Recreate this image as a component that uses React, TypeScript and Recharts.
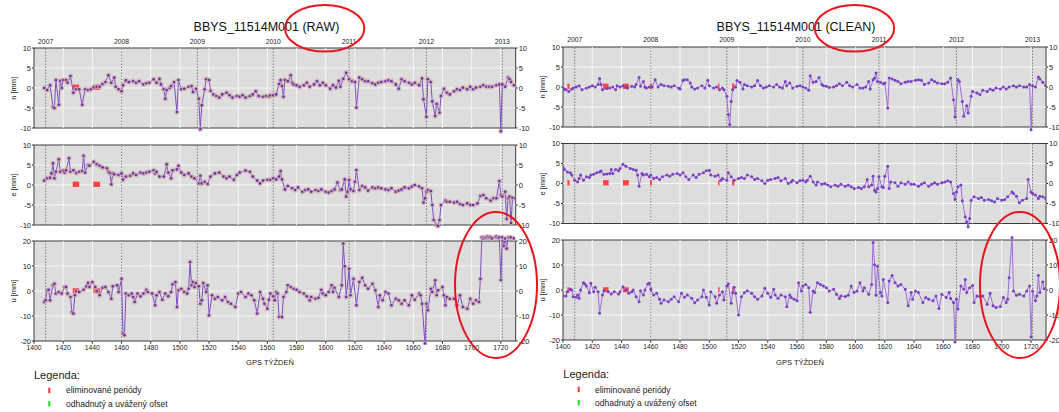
import React from 'react';
import { LineChart, Line, XAxis, YAxis, ReferenceArea, ReferenceLine } from 'recharts';

type Pt = [number, number];

// ---------- RAW series (GPS week, mm) ----------
const rawN: Pt[] = [[1407,0],[1409,-0.5],[1411,0.7],[1413,-4.7],[1414,-5],[1415,2],[1417,-4.2],[1418,1.8],[1419,0],[1420,2],[1422,2],[1423,1.3],[1425,3],[1427,-1.2],[1429,-0.3],[1431,-0.3],[1433,-4.2],[1435,-0.3],[1437,-0.5],[1439,-0.3],[1441,0.2],[1443,0.3],[1445,0.3],[1447,1],[1449,1.5],[1451,3.2],[1453,1.3],[1455,2.6],[1456,0.3],[1458,-0.3],[1460,-0.8],[1461,0.7],[1463,1.9],[1465,1.5],[1468,1.7],[1470,1.3],[1472,1.7],[1475,0.9],[1477,1.2],[1479,1.3],[1482,2.2],[1484,1.3],[1486,2.3],[1487,0.9],[1489,-0.3],[1490,-2.7],[1491,-0.5],[1493,0],[1494,0.5],[1496,1.5],[1498,-6],[1499,2],[1501,-0.3],[1503,-0.2],[1506,0.3],[1508,0.5],[1509,-1],[1511,-0.2],[1513,-2.7],[1514,-10.3],[1515,-4.3],[1517,-0.3],[1518,2.2],[1520,2],[1521,-0.7],[1523,-1.6],[1525,-2],[1527,-2.4],[1529,-1.6],[1532,-1.2],[1534,-1.8],[1536,-2.4],[1539,-2],[1541,-2.2],[1543,-1.8],[1545,-2.4],[1548,-2],[1550,-1.6],[1552,-0.8],[1554,-2],[1557,-2.2],[1559,-2],[1561,-2.1],[1562,-1.8],[1564,-1.8],[1566,-1.6],[1568,1],[1569,2],[1570,0.5],[1571,-2.2],[1572,2],[1574,1.7],[1576,3.2],[1577,1.3],[1578,0.9],[1580,0.7],[1582,0.3],[1585,0.7],[1587,1.3],[1589,0.3],[1592,0.9],[1594,1.7],[1596,0.7],[1598,1.3],[1600,0.7],[1603,-0.2],[1605,0.7],[1607,0.1],[1609,1.8],[1610,0.3],[1612,2.3],[1614,3.8],[1616,2.2],[1618,1.7],[1620,1.5],[1621,-4.9],[1623,2.6],[1625,2.2],[1627,1.7],[1629,1.7],[1632,1.2],[1634,0.9],[1636,1.3],[1638,1.5],[1641,1.7],[1643,1.9],[1645,1.7],[1648,0.9],[1650,-0.2],[1652,2.2],[1654,1.7],[1657,1.3],[1659,0.9],[1661,1.3],[1664,0.7],[1666,2.4],[1667,-2.8],[1669,-7.2],[1670,2.2],[1672,1.5],[1673,-3.3],[1675,-7],[1676,-4],[1678,-6.2],[1679,-2],[1681,-0.2],[1683,-1.2],[1685,-1.6],[1688,-0.8],[1690,-0.3],[1692,-0.5],[1694,0.1],[1697,-0.3],[1699,0.3],[1701,-0.3],[1703,0.1],[1706,0.3],[1708,0.7],[1710,0.3],[1712,0.3],[1714,0.3],[1717,0.7],[1719,0.9],[1720,-10.8],[1721,0.9],[1723,0.3],[1725,2.6],[1726,2.2],[1727,1.5],[1729,0.7]];

const rawE: Pt[] = [[1407,1.1],[1409,1.7],[1411,1.8],[1412,2.9],[1413,5.4],[1414,1.7],[1415,3.3],[1417,6.4],[1418,3.3],[1420,3.6],[1421,3.1],[1422,3.7],[1424,6.7],[1425,3.3],[1427,3.7],[1429,3],[1431,3.3],[1433,3.5],[1434,7.3],[1435,3.1],[1437,5],[1438,4.8],[1441,5.8],[1443,5.2],[1445,4.8],[1447,4.4],[1450,4.2],[1451,3.3],[1452,3],[1453,0.2],[1454,2.9],[1455,2.7],[1458,2.5],[1460,2.9],[1461,1.3],[1463,2.1],[1466,2.3],[1468,2.9],[1470,2.5],[1473,3.1],[1475,2.9],[1477,3.1],[1479,3.3],[1482,3.7],[1483,2.9],[1484,3.3],[1486,2.1],[1489,2.1],[1491,5.2],[1492,3.1],[1494,1.7],[1495,3.7],[1498,3.9],[1499,4.8],[1501,3.1],[1503,2.5],[1506,2.9],[1508,2.1],[1510,1.7],[1513,0.4],[1514,2.3],[1515,0.4],[1517,0.8],[1519,0.25],[1521,2.1],[1524,2.9],[1527,3.1],[1530,2.1],[1532,1.7],[1534,2.1],[1537,1.3],[1539,2.5],[1541,3.1],[1545,3.6],[1548,3.3],[1550,2.1],[1553,1.1],[1555,0.4],[1557,1.1],[1560,1.3],[1562,1.3],[1564,1.7],[1566,1.4],[1568,2.1],[1569,3.5],[1570,1.4],[1572,-1.1],[1574,-0.25],[1577,-0.8],[1579,-1.25],[1581,-0.6],[1584,-1.7],[1586,-1.25],[1588,-1.1],[1590,-1.7],[1593,-1.25],[1595,-1.5],[1597,-1.1],[1600,-1.7],[1602,-1.9],[1604,-1.5],[1606,-1.1],[1608,0.6],[1610,-1.25],[1611,-1.1],[1613,1.4],[1614,-2.9],[1615,-1.7],[1616,1.25],[1617,-1.1],[1619,-1.5],[1620,0.8],[1621,3.75],[1623,-1.25],[1625,-0.25],[1627,-0.6],[1629,-1.4],[1632,-0.6],[1634,-0.8],[1636,-0.6],[1638,-0.8],[1641,-1.1],[1643,-1.25],[1645,-0.8],[1648,-1.7],[1650,-1.4],[1652,-1.1],[1654,-0.6],[1657,-0.8],[1659,-0.4],[1661,0],[1664,-0.4],[1666,-0.8],[1667,-4.4],[1668,-3.3],[1669,-1.7],[1670,-1.25],[1672,-1.5],[1673,-5],[1674,-8.75],[1676,-10],[1677,-10.25],[1678,-8.75],[1679,-5],[1682,-3.9],[1683,-4.2],[1685,-4.2],[1688,-4.4],[1690,-4.2],[1692,-4.75],[1694,-5],[1697,-4.6],[1699,-5],[1701,-5],[1704,-4.6],[1706,-2.75],[1708,-2.5],[1710,-3.3],[1713,-3.9],[1715,-3.3],[1717,-3.3],[1719,1],[1720,-2.5],[1721,-2.9],[1723,-1.7],[1724,-8.5],[1725,-3.3],[1726,-2.9],[1727,-9.5],[1728,-3.2],[1730,-3.3]];

const rawU: Pt[] = [[1407,-4.4],[1408,-3.7],[1409,0.3],[1410,0.5],[1411,-3.7],[1413,2.3],[1414,2.9],[1415,-1],[1417,-0.4],[1419,-1],[1421,1.6],[1422,1.6],[1423,-1],[1425,-2.4],[1426,-8.4],[1427,-9],[1428,-1.7],[1429,0],[1431,-0.4],[1434,0.5],[1436,1.9],[1437,3.2],[1438,1.6],[1440,3.6],[1442,1.6],[1443,0],[1445,-1.7],[1447,1.3],[1449,1.6],[1451,-0.4],[1453,-3.1],[1454,1.9],[1457,2.3],[1458,-0.4],[1460,4.9],[1461,-17],[1462,-17.7],[1463,-1],[1465,-1.7],[1467,-1],[1468,-2.4],[1469,-4.4],[1471,-1],[1473,-2.1],[1475,-1],[1477,0.5],[1478,-0.4],[1481,-1],[1483,-5.7],[1484,-1.7],[1486,-0.4],[1488,-3.5],[1490,-1],[1492,-2.1],[1494,-0.4],[1495,2.7],[1497,3.6],[1498,-6.4],[1499,0.3],[1501,0.9],[1503,-0.4],[1505,-1],[1506,0.9],[1507,11.6],[1508,2.3],[1509,3.6],[1510,1.6],[1511,3.2],[1513,1.9],[1514,-5.1],[1515,-3.7],[1516,3.2],[1518,-0.4],[1519,2.3],[1520,-9.7],[1522,-1.7],[1524,-3.1],[1526,-2.4],[1529,-3.7],[1531,-2.4],[1533,-4.4],[1535,-5.1],[1538,-6.4],[1540,-1],[1542,-0.4],[1545,-2.4],[1547,-1],[1549,-1.7],[1551,-3.7],[1553,-9],[1555,-0.4],[1557,-3.1],[1558,-5.1],[1560,-7.1],[1561,-3.5],[1562,-1],[1564,-2.1],[1565,-3.7],[1566,-0.4],[1567,-1],[1568,-10.4],[1570,-10.4],[1571,-2.4],[1573,-0.4],[1574,2.3],[1576,1.6],[1578,0.9],[1580,0.5],[1582,-0.4],[1585,-1],[1587,-2.1],[1589,-3.7],[1590,-2.4],[1593,-3.1],[1595,-2.7],[1597,0.5],[1598,-1],[1600,-1.7],[1602,-0.4],[1604,2.3],[1605,-0.4],[1606,1.3],[1609,-2.4],[1611,2.3],[1612,19],[1613,9.9],[1614,-2.4],[1616,8.9],[1617,-1.7],[1619,4.9],[1621,-5.7],[1623,3.6],[1625,5.3],[1627,2.3],[1629,0.9],[1632,2.9],[1634,0.3],[1636,-6.4],[1637,-1.7],[1639,-3.7],[1641,-0.4],[1643,-1],[1645,-5.7],[1648,-3.1],[1650,-3.7],[1652,-5.1],[1654,-3.7],[1657,-5.7],[1659,-1.7],[1661,-3.5],[1664,-1],[1665,-1.7],[1666,-5.1],[1668,-21],[1669,-5.1],[1670,-7.7],[1672,0.9],[1673,-0.4],[1675,4.3],[1676,-1.7],[1677,0.3],[1680,1.6],[1681,-1.7],[1682,-5.7],[1683,-2.4],[1685,-3.1],[1688,-3.1],[1690,-5.7],[1692,-1.7],[1694,-6.4],[1697,-7.1],[1699,-3.1],[1701,-5.1],[1703,-3.7],[1705,-4.4],[1706,4.9],[1707,21.5],[1708,21],[1709,21.5],[1710,21.2],[1711,21.8],[1712,21.3],[1713,21.6],[1714,21],[1716,21.5],[1717,21.8],[1718,21.2],[1719,21.5],[1720,4.4],[1721,21.5],[1722,18],[1723,21],[1724,17],[1725,21.5],[1726,21.3],[1727,21.5],[1729,21]];

// ---------- CLEAN series ----------
const cleanN: Pt[] = [[1400,-0.25],[1401,-0.5],[1402,-0.7],[1404,-1.1],[1406,-0.5],[1407,-0.25],[1409,0],[1411,0.3],[1413,-0.7],[1416,-0.25],[1418,0],[1420,0.3],[1422,0],[1424,0.6],[1425,2.1],[1426,0.6],[1427,-0.7],[1430,-0.4],[1432,-0.25],[1434,0],[1436,-0.7],[1437,0.3],[1439,0],[1441,0.3],[1443,0],[1444,-0.25],[1447,0.2],[1449,0],[1450,0.6],[1452,2.4],[1453,0.2],[1455,1.4],[1456,0],[1457,-0.25],[1459,0],[1461,0],[1463,1.8],[1465,0],[1467,0.6],[1469,0.3],[1472,0.2],[1474,0],[1476,0.3],[1479,-0.25],[1480,-0.5],[1482,1.6],[1483,1.8],[1485,1.8],[1487,1],[1488,0],[1490,-0.5],[1492,-0.25],[1495,0.3],[1497,-0.25],[1499,1.7],[1500,0.3],[1503,-0.25],[1505,0],[1507,-0.7],[1509,-0.25],[1510,-0.7],[1512,-2.3],[1513,-6.9],[1514,-9.4],[1515,-3.6],[1516,-0.7],[1518,0],[1519,1.6],[1521,1.2],[1523,-0.5],[1524,0.6],[1526,0.3],[1529,0],[1531,0.3],[1533,1.6],[1535,0.3],[1537,-0.25],[1539,0],[1541,0.3],[1544,0],[1546,0.6],[1548,0],[1550,-0.25],[1552,1.4],[1553,0.3],[1555,1],[1557,-0.25],[1560,0.2],[1562,0.3],[1564,0],[1566,-0.25],[1568,-0.8],[1569,2.8],[1571,1.2],[1573,1.4],[1575,2.4],[1577,0.6],[1578,0.3],[1580,0.2],[1582,-0.1],[1585,0],[1587,0.3],[1589,0.8],[1591,0.3],[1594,1.2],[1596,0.3],[1598,0],[1601,0.6],[1603,-0.25],[1605,-0.25],[1607,0],[1609,1.4],[1610,-0.5],[1612,1.8],[1613,2.25],[1614,3.5],[1615,1.4],[1617,1.2],[1619,0.8],[1620,1],[1622,-5.25],[1623,2.25],[1625,2],[1627,1.7],[1629,1.4],[1631,0.8],[1634,1.2],[1636,1.4],[1638,1.4],[1641,1.7],[1643,1.8],[1645,1.7],[1647,0.6],[1650,1],[1652,1.8],[1654,1.4],[1656,1],[1659,0.8],[1661,0.8],[1663,1.2],[1665,2.25],[1667,-3.2],[1668,-7.5],[1670,1.8],[1671,1.4],[1673,-3.6],[1674,-7.3],[1676,-4.7],[1677,-6.5],[1679,-2.3],[1680,-1.1],[1683,-1.5],[1685,-1.9],[1687,-0.8],[1690,-1.1],[1692,-0.5],[1694,-0.8],[1696,-0.25],[1699,-0.5],[1701,0],[1703,-0.5],[1705,0],[1708,0.3],[1710,0],[1712,0.3],[1715,0],[1717,0],[1719,0.6],[1720,-10.7],[1721,0.3],[1723,0],[1725,2.5],[1726,2],[1728,1.2],[1730,0.3]];

const cleanE: Pt[] = [[1400,4],[1401,3.5],[1403,2.9],[1405,2.7],[1406,2.1],[1408,0.8],[1410,0.4],[1411,1.25],[1412,2.1],[1414,0.8],[1416,1.7],[1418,1.5],[1419,2.1],[1421,2.3],[1423,2.7],[1425,2.9],[1426,3.1],[1428,2.3],[1430,2.4],[1432,2.5],[1433,3.5],[1434,2.5],[1436,3.5],[1438,3.2],[1439,3.75],[1441,4.8],[1443,4.3],[1446,3.75],[1448,3.5],[1450,3.3],[1451,2.1],[1452,-0.7],[1454,2.5],[1455,2.1],[1457,2.3],[1459,1.7],[1460,2.1],[1462,1.25],[1464,1.5],[1466,1],[1468,1.7],[1471,2.1],[1473,1.8],[1475,2.3],[1478,2.5],[1480,2.1],[1482,2.7],[1484,1.7],[1486,1],[1489,2.1],[1491,1.5],[1493,2.3],[1496,2.7],[1498,3.2],[1500,3.3],[1501,2.1],[1504,1.8],[1506,2.1],[1508,0.8],[1509,1.25],[1512,0.8],[1513,2.7],[1515,1.7],[1517,0.8],[1520,1.25],[1522,1.5],[1524,1.25],[1526,2.1],[1529,1.7],[1531,1],[1533,1.25],[1536,0.7],[1538,0],[1540,0.8],[1542,1],[1545,1.25],[1547,1.5],[1549,0.7],[1552,1.25],[1554,0],[1556,0.4],[1557,0.8],[1560,0.2],[1562,0.7],[1564,0.8],[1566,0.4],[1567,0.8],[1569,1.8],[1571,0.4],[1573,-0.4],[1574,0.4],[1577,-0.2],[1579,0],[1581,-0.4],[1583,-0.8],[1586,-0.4],[1588,-0.7],[1590,-0.2],[1593,-0.7],[1595,-0.4],[1597,-0.8],[1599,-1.25],[1602,-1],[1604,-1.25],[1606,-0.8],[1608,1],[1609,-0.8],[1611,-0.4],[1612,1.8],[1613,-1.7],[1614,-2.1],[1615,-1.25],[1616,1.7],[1618,-0.8],[1619,-1],[1620,1.8],[1622,4.3],[1623,-1.25],[1624,0.4],[1627,0.2],[1629,-0.7],[1631,0.2],[1634,-0.2],[1636,0.4],[1638,-0.2],[1640,-0.2],[1643,-0.7],[1645,-0.2],[1647,0.2],[1650,-0.7],[1652,-0.2],[1654,0.2],[1656,-0.2],[1659,0.2],[1661,0.4],[1663,0.7],[1665,0.4],[1667,-2.5],[1668,-4],[1669,-2.1],[1670,-0.8],[1672,-0.4],[1673,-4.3],[1675,-8.3],[1676,-9.6],[1677,-10.8],[1678,-8.75],[1679,-4.2],[1681,-3.3],[1684,-3.75],[1686,-3.5],[1688,-4.2],[1691,-4],[1693,-4.3],[1695,-4.6],[1697,-3.75],[1700,-4.2],[1702,-4],[1704,-3.3],[1707,-2.1],[1708,-2.5],[1710,-3.2],[1712,-4.8],[1714,-4.2],[1717,-3.75],[1718,1],[1720,-2.1],[1721,-2.5],[1723,-2.9],[1725,-3.75],[1726,-3.2],[1728,-3.3],[1730,-3.75]];

const cleanU: Pt[] = [[1400,-2.4],[1402,-2.4],[1403,-0.7],[1405,0.3],[1406,0],[1407,-2.7],[1409,-2.9],[1410,-2],[1411,-3.3],[1412,0],[1414,2.9],[1415,2.4],[1416,1.6],[1418,-1.1],[1419,2.7],[1421,-0.7],[1422,1.1],[1424,-0.7],[1425,-9.3],[1427,-2],[1428,-0.3],[1431,-0.7],[1433,-1.6],[1435,-0.7],[1438,-1.6],[1439,-0.7],[1441,1.3],[1443,0],[1445,-1.3],[1447,-0.7],[1448,0],[1450,-2.7],[1452,-4.7],[1453,-0.3],[1455,-2],[1456,0],[1458,2.4],[1459,2.7],[1460,0.3],[1462,-2],[1464,-1.3],[1466,-3.7],[1467,-5.3],[1469,-4],[1472,-4.7],[1474,-3.7],[1476,-2.7],[1479,-4.7],[1481,-1.3],[1483,-2.9],[1485,-2],[1488,-3.3],[1490,-5.1],[1492,-4],[1495,-2.7],[1496,0],[1498,-2.9],[1500,-6],[1501,-0.7],[1504,-2.7],[1505,-5.3],[1507,-2],[1509,-0.7],[1510,-4],[1512,1.6],[1513,2.4],[1515,-5.3],[1516,-1.1],[1517,1.1],[1518,-1.3],[1520,-10],[1522,-2.7],[1524,-1.1],[1526,-0.3],[1529,-1.3],[1531,-2.7],[1533,-3.7],[1536,-2.4],[1538,0.7],[1540,-1.3],[1542,-2.9],[1544,0.3],[1545,-2],[1547,-3.3],[1549,-2],[1552,-2.7],[1553,-6.7],[1555,-2],[1556,-3],[1558,-3.7],[1560,-4.3],[1561,2.9],[1563,-0.4],[1564,1.6],[1566,2.2],[1568,0.9],[1569,-8.9],[1571,-0.4],[1572,-1],[1574,2.9],[1576,2.2],[1578,1.6],[1580,0.9],[1582,-0.4],[1585,0.3],[1587,-1.7],[1589,-3.4],[1590,-2.4],[1593,-2.6],[1595,-2.1],[1597,1.6],[1599,-1],[1601,-0.4],[1603,2.9],[1605,-0.4],[1606,0.9],[1609,-1.7],[1611,2.2],[1612,19],[1613,10.1],[1614,-2.1],[1615,9.5],[1617,-1],[1618,-2.4],[1619,4.2],[1622,-5],[1623,3.6],[1625,5.8],[1627,2.9],[1629,1.6],[1631,2.2],[1634,0.3],[1636,-6.3],[1638,-1],[1639,-3.7],[1641,-0.4],[1643,-1],[1646,-5],[1648,-3],[1650,-3.7],[1653,-4.3],[1655,-2.4],[1657,-7.4],[1659,-1.7],[1662,-3],[1664,-1],[1665,-3.4],[1667,-5],[1668,-20.8],[1669,-3.7],[1670,-7.6],[1672,1.6],[1674,0.3],[1675,4.2],[1676,-1],[1678,0.9],[1680,1.8],[1681,-5],[1683,-2.4],[1685,-2.6],[1687,-2.4],[1690,-5.7],[1692,-1.3],[1694,-6.3],[1696,-7],[1699,-6.6],[1701,-3],[1703,-5],[1704,-3.7],[1705,4.9],[1707,21],[1708,-0.4],[1710,-2.1],[1712,-1.7],[1715,-2.4],[1717,-0.4],[1719,1.6],[1720,-18.8],[1721,-0.4],[1723,-4.3],[1724,-2.4],[1725,5.8],[1726,-1],[1728,3.2],[1729,0.5]];

// eliminated periods (start week, end week)
const rawElim: Pt[] = [[1426.5, 1431], [1440.7, 1445.3]];
const cleanElim: Pt[] = [[1403, 1404.5], [1427.4, 1431.2], [1441, 1445], [1459.5, 1460.8], [1506, 1507], [1515.6, 1517.2]];

const weekTicks = [1400, 1420, 1440, 1460, 1480, 1500, 1520, 1540, 1560, 1580, 1600, 1620, 1640, 1660, 1680, 1700, 1720];
const yearWeeks = [1408, 1460, 1512, 1564, 1616, 1669, 1721];
const yearLabels = ['2007', '2008', '2009', '2010', '2011', '2012', '2013'];
const neTicks = [-10, -5, 0, 5, 10];
const uTicks = [-20, -10, 0, 10, 20];
const titles = ['BBYS_11514M001 (RAW)', 'BBYS_11514M001 (CLEAN)'];
const compLabels = ['n [mm]', 'e [mm]', 'u [mm]'];
const legendItems = ['eliminované periódy', 'odhadnutý a uvážený ofset'];

const FONT = '"Liberation Sans", Arial, Helvetica, sans-serif';
const X_MIN = 1400;
const X_MAX = 1730.2;
const CHART_W = 545;

function makeDot(raw: boolean) {
  return (p: any) => {
    const { cx, cy, index } = p;
    if (cx == null || cy == null) return <g key={'d' + index} />;
    if (raw) {
      return (
        <g key={'d' + index}>
          <circle cx={cx} cy={cy} r={2.6} fill="#cfa9a3" fillOpacity={0.7} />
          <circle cx={cx} cy={cy} r={1.3} fill="#6a2db5" />
        </g>
      );
    }
    return <circle key={'d' + index} cx={cx} cy={cy} r={1.5} fill="#7b3fc4" />;
  };
}

interface SubProps {
  pts: Pt[];
  raw: boolean;
  kind: 'n' | 'e' | 'u';
  left: number;
  frameTop: number;
  marginRight: number;
  elim: Pt[];
  yearOffset: number;
}

function Sub({ pts, raw, kind, left, frameTop, marginRight, elim, yearOffset }: SubProps) {
  const isU = kind === 'u';
  const lim = isU ? 20 : 10;
  const ticks = isU ? uTicks : neTicks;
  const domain: [number, number] = isU ? [-21.6, 23] : [-12, 12];
  const ppu = isU ? 2.5 : 4;
  const plotTop = frameTop - (domain[1] - lim) * ppu;
  const plotH = (domain[1] - domain[0]) * ppu;
  const xh = isU ? 20 : 0;
  const mb = 4;
  const height = plotTop + plotH + xh + mb;
  const data = pts.map(([w, v]) => ({ w, v }));
  const grid = isU ? [-10, 0, 10] : [-5, 0, 5];
  const elimMid = isU ? 0.1 : 0.175;
  const elimPx = isU ? 5 : 5.4;
  const tickStyle = { fontSize: 7.5, fill: '#222', fontFamily: FONT };
  return (
    <div style={{ position: 'absolute', left, top: 0 }}>
      <LineChart width={CHART_W} height={height} margin={{ top: plotTop, right: marginRight, bottom: mb, left: 4 }}>
        <XAxis
          type="number"
          dataKey="w"
          domain={[X_MIN, X_MAX]}
          allowDataOverflow
          ticks={weekTicks}
          interval={0}
          hide={!isU}
          height={xh}
          axisLine={false}
          tickLine={false}
          tickSize={0}
          tickMargin={0}
          tick={{ fontSize: 6.8, fill: '#222', fontFamily: FONT }}
        />
        <YAxis yAxisId="l" type="number" domain={domain} allowDataOverflow ticks={ticks} interval={0}
          axisLine={false} tickSize={2} tickMargin={1} width={30} tick={tickStyle} tickLine={{ stroke: '#333' }} />
        <YAxis yAxisId="r" orientation="right" type="number" domain={domain} allowDataOverflow ticks={ticks} interval={0}
          axisLine={false} tickSize={2} tickMargin={1} width={25} tick={tickStyle} tickLine={{ stroke: '#333' }} />
        <ReferenceArea yAxisId="l" x1={X_MIN} x2={X_MAX} y1={-lim} y2={lim} fill="#dddddd" fillOpacity={1} stroke="#3a3a3a" strokeWidth={1} />
        {grid.map((g) => (
          <ReferenceLine key={'h' + g} yAxisId="l" y={g} stroke="#f6f6f6" strokeWidth={1} />
        ))}
        {weekTicks.slice(1).map((t) => (
          <ReferenceLine key={'v' + t} yAxisId="l" segment={[{ x: t, y: -lim }, { x: t, y: lim }]} stroke="#f6f6f6" strokeWidth={1} />
        ))}
        {yearWeeks.map((t, i) => (
          <ReferenceLine
            key={'y' + t}
            yAxisId="l"
            segment={[{ x: t, y: -lim }, { x: t, y: lim }]}
            stroke="#666"
            strokeWidth={0.8}
            strokeDasharray="1.5 1.5"
            label={kind === 'n' ? { value: yearLabels[i], position: 'top', offset: yearOffset, fontSize: 6.8, fill: '#222' } : undefined}
          />
        ))}
        {isU && weekTicks.map((t) => (
          <ReferenceLine key={'t' + t} yAxisId="l" segment={[{ x: t, y: -lim }, { x: t, y: -lim - 1.1 }]} stroke="#333" strokeWidth={1} />
        ))}
        {elim.map(([a, b], i) => (
          <ReferenceLine key={'el' + i} yAxisId="l" segment={[{ x: a, y: elimMid }, { x: b, y: elimMid }]} stroke="#ff4444" strokeWidth={elimPx} />
        ))}
        <Line
          yAxisId="l"
          data={data}
          dataKey="v"
          type="linear"
          stroke={raw ? '#7d4bc2' : '#9a6fd4'}
          strokeWidth={1}
          dot={makeDot(raw)}
          activeDot={false}
          isAnimationActive={false}
        />
      </LineChart>
    </div>
  );
}

const panels = [
  { raw: true, left: 0, mr: 4.3, tops: [48, 145, 241], yearOffset: 4, series: [rawN, rawE, rawU], elim: rawElim },
  { raw: false, left: 529, mr: 3, tops: [47, 143.5, 240], yearOffset: 5, series: [cleanN, cleanE, cleanU], elim: cleanElim },
];

export default function App() {
  const kinds: ('n' | 'e' | 'u')[] = ['n', 'e', 'u'];
  return (
    <div style={{ position: 'absolute', left: 0, top: 0, width: 1059, height: 412, overflow: 'hidden', background: '#fff', fontFamily: FONT }}>
      {panels.map((p, pi) =>
        kinds.map((k, ki) => (
          <Sub
            key={pi + k}
            pts={p.series[ki]}
            raw={p.raw}
            kind={k}
            left={p.left}
            frameTop={p.tops[ki]}
            marginRight={p.mr}
            elim={p.elim}
            yearOffset={p.yearOffset}
          />
        ))
      )}
      <svg width={1059} height={412} style={{ position: 'absolute', left: 0, top: 0, pointerEvents: 'none' }} fontFamily={FONT}>
        <text x={266.5} y={30.5} textAnchor="middle" fontSize={12.5} fill="#111">{titles[0]}</text>
        <text x={796} y={30.5} textAnchor="middle" fontSize={12.5} fill="#111">{titles[1]}</text>
        {[[13, 88.3], [13, 185], [13, 291]].map(([x, y], i) => (
          <text key={'la' + i} x={x} y={y} transform={`rotate(-90 ${x} ${y})`} textAnchor="middle" dy="0.35em" fontSize={7.5} fill="#222">{compLabels[i]}</text>
        ))}
        {[[542.5, 87], [542.5, 184], [542.5, 290]].map(([x, y], i) => (
          <text key={'lb' + i} x={x} y={y} transform={`rotate(-90 ${x} ${y})`} textAnchor="middle" dy="0.35em" fontSize={7.5} fill="#222">{compLabels[i]}</text>
        ))}
        <text x={270} y={365.2} textAnchor="middle" fontSize={7.5} fill="#222">GPS TÝŽDEŇ</text>
        <text x={800} y={364.5} textAnchor="middle" fontSize={7.5} fill="#222">GPS TÝŽDEŇ</text>
        <text x={34} y={379.3} fontSize={11} fill="#222">Legenda:</text>
        <rect x={48.3} y={387.7} width={2} height={5.5} fill="#ff3333" />
        <text x={66} y={393.3} fontSize={8.5} fill="#222">{legendItems[0]}</text>
        <rect x={48.3} y={401} width={2} height={5.5} fill="#22dd22" />
        <text x={66} y={406.7} fontSize={8.5} fill="#222">{legendItems[1]}</text>
        <text x={563.3} y={378.3} fontSize={11} fill="#222">Legenda:</text>
        <rect x={577.7} y={386.7} width={2} height={5.5} fill="#ff3333" />
        <text x={595} y={392.7} fontSize={8.5} fill="#222">{legendItems[0]}</text>
        <rect x={577.7} y={400} width={2} height={5.5} fill="#22dd22" />
        <text x={595} y={406} fontSize={8.5} fill="#222">{legendItems[1]}</text>
        <g fill="none" stroke="#e8141b" strokeWidth={2}>
          <ellipse cx={324.7} cy={28.3} rx={39.7} ry={23.3} />
          <ellipse cx={854.5} cy={28.3} rx={39.7} ry={23.3} />
          <ellipse cx={496} cy={285} rx={41} ry={73} />
          <ellipse cx={1020} cy={285} rx={40} ry={73} />
        </g>
      </svg>
    </div>
  );
}
